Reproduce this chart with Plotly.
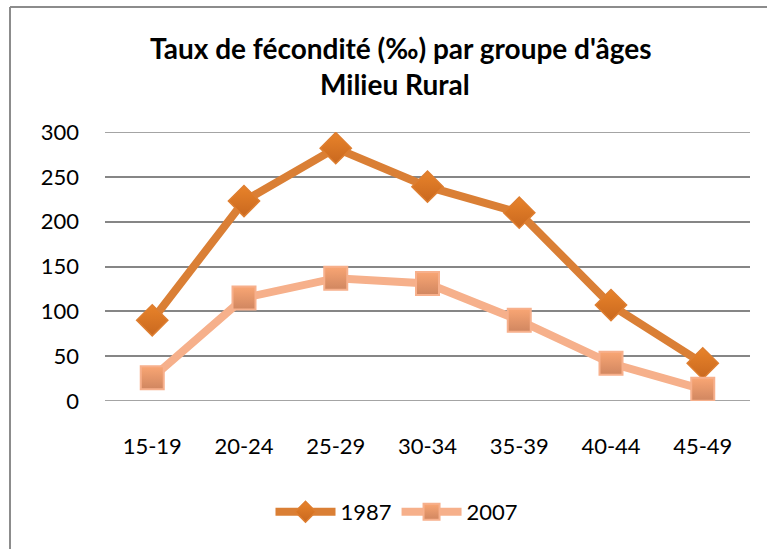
import plotly.graph_objects as go

categories = ["15-19", "20-24", "25-29", "30-34", "35-39", "40-44", "45-49"]
taux_1987 = [90, 223, 282, 239, 210, 107, 42]
taux_2007 = [26, 115, 137, 131, 90, 42, 13]
y_ticks = [0, 50, 100, 150, 200, 250, 300]
title_line1 = "Taux de fécondité (‰) par groupe d'âges"
title_line2 = "Milieu Rural"

FONT = "Lato, 'Open Sans', sans-serif"

fig = go.Figure()
fig.add_trace(go.Scatter(
    x=categories, y=taux_1987, name="1987", mode="lines+markers",
    line=dict(color="#DA7F35", width=8),
    marker=dict(symbol="diamond", size=24, color="#E8832A",
                gradient=dict(type="vertical", color="#C9681F"),
                line=dict(color="#DE7E30", width=1.5)),
))
fig.add_trace(go.Scatter(
    x=categories, y=taux_2007, name="2007", mode="lines+markers",
    line=dict(color="#F6B08B", width=8),
    marker=dict(symbol="square", size=23, color="#F9A674",
                gradient=dict(type="vertical", color="#D08660"),
                line=dict(color="#F7B08C", width=2)),
))

W, H = 767, 549
L, R, T, B = 105, 17, 132, 148
pw, ph = W - L - R, H - T - B

def px(x):
    return (x - L) / pw

def py(y):
    return (H - B - y) / ph

# outer chart border (left and top edges visible)
fig.add_shape(type="line", xref="paper", yref="paper",
              x0=px(10), x1=px(10), y0=py(7), y1=py(560),
              line=dict(color="#8C8C8C", width=2))
fig.add_shape(type="line", xref="paper", yref="paper",
              x0=px(10), x1=px(780), y0=py(7), y1=py(7),
              line=dict(color="#8C8C8C", width=2))

# gridlines at range edges (plotly omits them)
for v in (y_ticks[0], y_ticks[-1]):
    fig.add_shape(type="line", xref="paper", yref="y", x0=0, x1=1, y0=v, y1=v,
                  line=dict(color="#868686", width=1.5), layer="below")

fig.add_annotation(text="<b>" + title_line1 + "</b>", xref="paper", yref="paper",
                   x=px(401), y=py(48), xanchor="center", yanchor="middle", showarrow=False,
                   font=dict(family=FONT, size=28, color="black"))
fig.add_annotation(text="<b>" + title_line2 + "</b>", xref="paper", yref="paper",
                   x=px(395), y=py(84), xanchor="center", yanchor="middle", showarrow=False,
                   font=dict(family=FONT, size=28, color="black"))

fig.update_layout(
    width=W, height=H,
    margin=dict(l=L, r=R, t=T, b=B, pad=0),
    paper_bgcolor="white", plot_bgcolor="white",
    font=dict(family=FONT, size=22, color="black"),
    showlegend=True,
    legend=dict(orientation="h", x=px(397), xanchor="center", y=py(512), yanchor="middle",
                font=dict(size=22), itemwidth=60, bgcolor="rgba(0,0,0,0)"),
    xaxis=dict(showgrid=False, showline=False, ticks="", zeroline=False,
               ticklabelstandoff=30, tickfont=dict(size=22)),
    yaxis=dict(range=[0, 300], tickvals=y_ticks, showgrid=True, gridcolor="#868686",
               gridwidth=1.5, zeroline=False, showline=False, ticks="",
               ticklabelstandoff=25, tickfont=dict(size=22)),
)

fig.write_html("out.html", config={"displayModeBar": False},
               post_script="document.body.style.margin='0';")
